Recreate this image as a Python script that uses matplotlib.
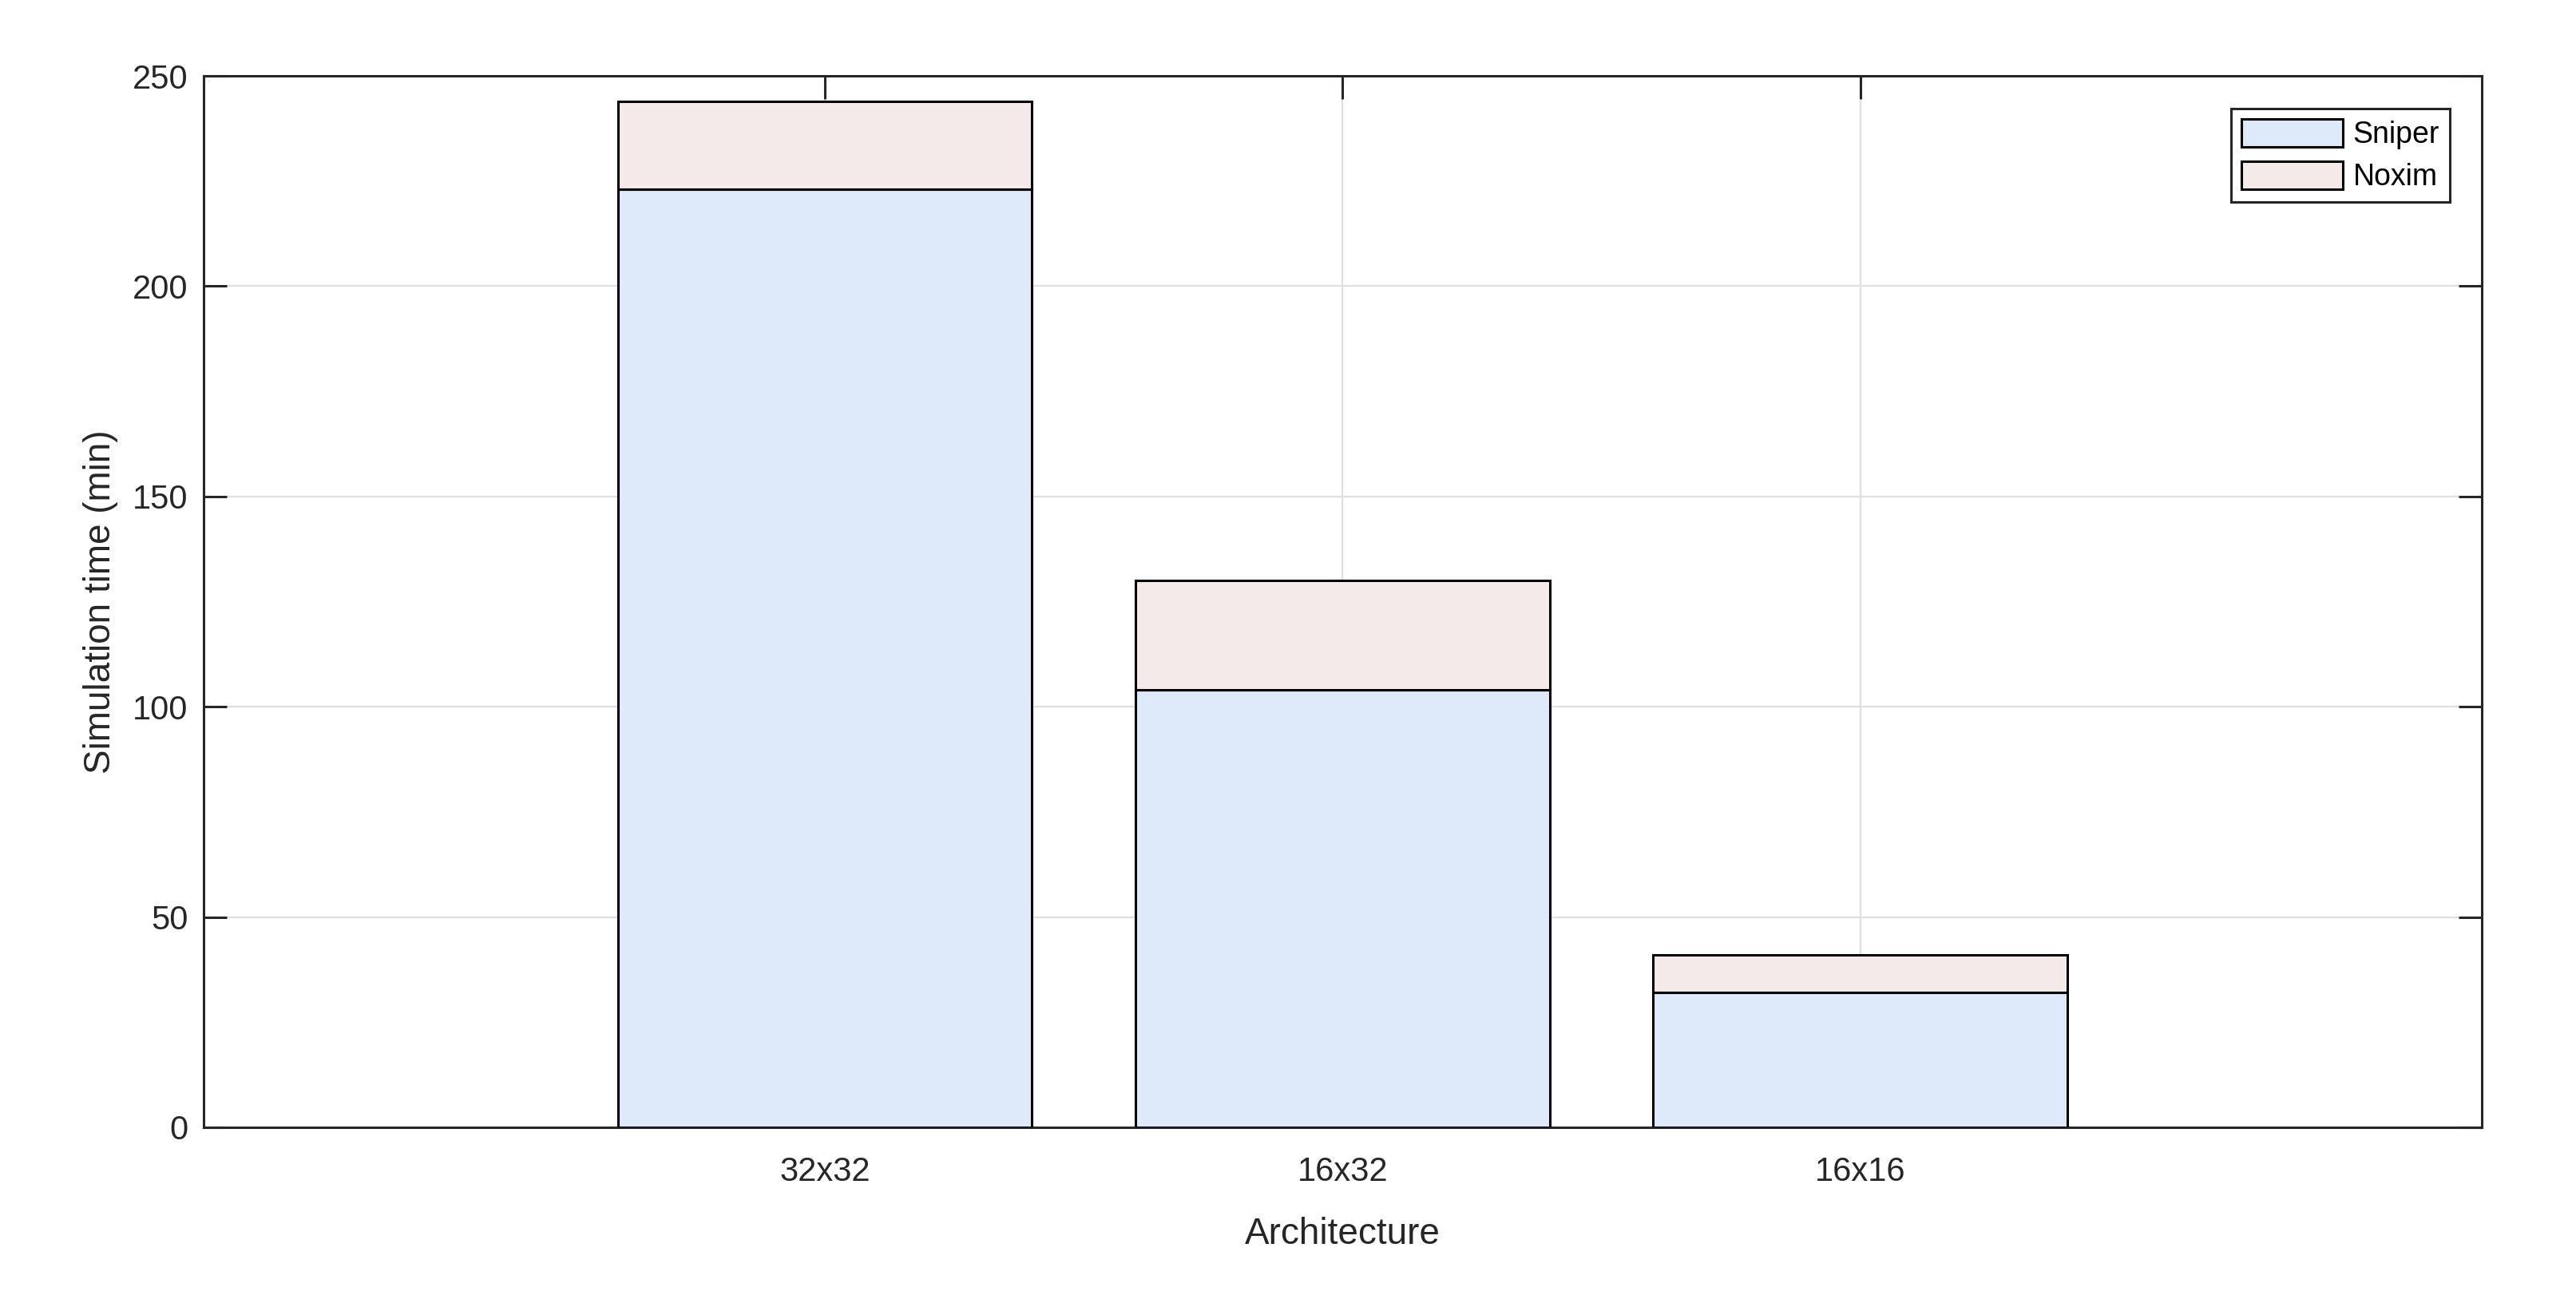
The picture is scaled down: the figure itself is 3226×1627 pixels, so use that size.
#!/usr/bin/env python

import matplotlib
matplotlib.use("Agg")
import matplotlib.pyplot as plt
import numpy as np

# Data (minutes)
architectures = ["32x32", "16x32", "16x16"]
sniper = [223, 104, 32]
noxim = [21, 26, 9]
series_names = ["Sniper", "Noxim"]
y_ticks = [0, 50, 100, 150, 200, 250]


def main():
    plt.rcParams['font.family'] = ['Liberation Sans', 'DejaVu Sans']
    dark = '#262626'

    fig = plt.figure(figsize=(16.13, 8.135), dpi=200)
    ax = fig.add_axes([0.0790, 0.1322, 0.9634 - 0.0790, 0.9416 - 0.1322])

    x = np.arange(1, len(architectures) + 1)

    # Stacked bars
    ax.bar(x, sniper, width=0.8, color='#DEEAF9', edgecolor='black',
           linewidth=1.1, label=series_names[0], zorder=3)
    ax.bar(x, noxim, width=0.8, bottom=sniper, color='#F4EAE9',
           edgecolor='black', linewidth=1.1, label=series_names[1], zorder=3)

    ax.set_xlim(-0.2, 4.2)
    ax.set_ylim(0, 250)
    ax.set_xticks(x)
    ax.set_xticklabels(architectures)
    ax.set_yticks(y_ticks)

    # MATLAB-like box, grid and ticks
    ax.grid(True, color='#DFDFDF', linewidth=0.8, zorder=0)
    ax.set_axisbelow(True)
    for s in ax.spines.values():
        s.set_color(dark)
        s.set_linewidth(1.1)
    ax.tick_params(axis='both', direction='in', length=10.5, width=1.1,
                   color=dark, labelcolor=dark, labelsize=15,
                   top=True, right=True)
    ax.tick_params(axis='y', pad=7)
    ax.tick_params(axis='x', pad=13)

    ax.set_xlabel("Architecture", fontsize=16.5, color=dark, labelpad=13)
    ax.set_ylabel("Simulation time (min)", fontsize=16.5, color=dark,
                  labelpad=6.5)

    leg = ax.legend(loc='upper right', bbox_to_anchor=(0.986, 0.969),
                    borderaxespad=0, fontsize=13.5, fancybox=False,
                    framealpha=1, edgecolor=dark, handlelength=3.4,
                    handleheight=1.05, handletextpad=0.33, borderpad=0.35,
                    labelspacing=0.4)
    leg.get_frame().set_linewidth(1.1)

    fig.savefig("out.png", dpi=200)


if __name__ == "__main__":
    main()
